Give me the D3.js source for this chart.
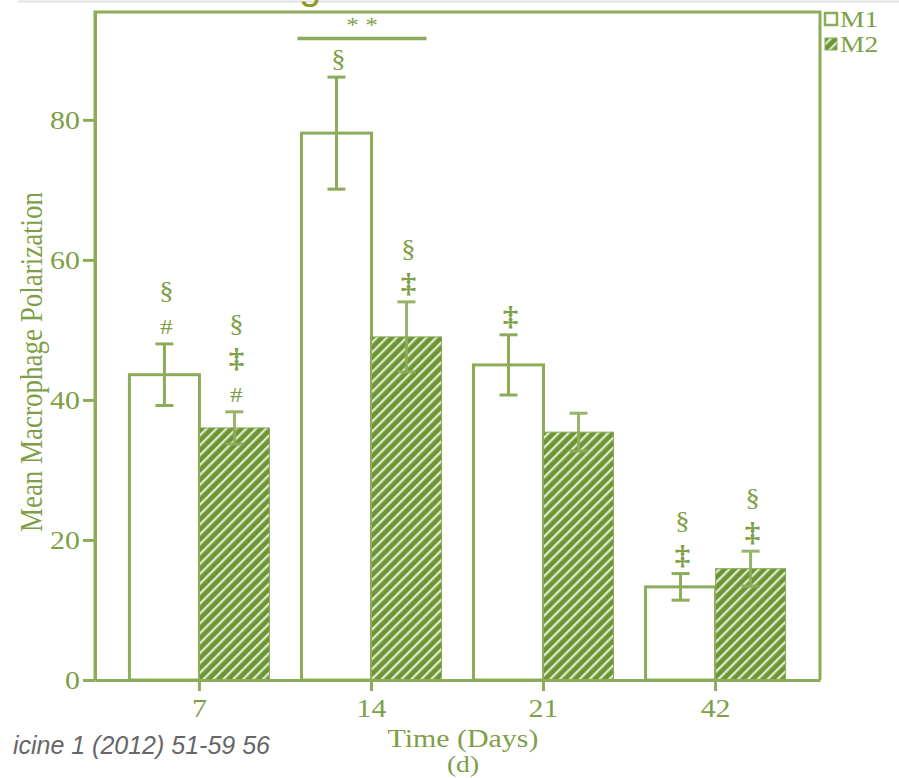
<!DOCTYPE html>
<html>
<head>
<meta charset="utf-8">
<script src="https://cdn.jsdelivr.net/npm/d3@7"></script>
<style>
  body { margin: 0; background: #fff; }
  svg { display: block; }
</style>
</head>
<body>
<script>
// values
var days = ["7", "14", "21", "42"];
var series = ["M1", "M2"];
var m1Mean = [43.6, 78.1, 45.0, 13.3];
var m1Err = [4.4, 8.0, 4.3, 1.9];
var m2Mean = [36.0, 49.0, 35.4, 15.9];
var m2Err = [2.3, 5.0, 2.7, 2.5];
// significance symbols, bottom to top, over each bar
var m1Marks = [["#", "§"], ["§"], ["‡"], ["‡", "§"]];
var m2Marks = [["#", "‡", "§"], ["‡", "§"], [], ["‡", "§"]];
var yTicks = [0, 20, 40, 60, 80];
var sigLevel = 91.6;   // "**" bracket over day 14

var width = 899, height = 778;
var margin = { left: 95, right: 79, top: 12, bottom: 98 };
var lineCol = "#8dac5a", textCol = "#7e9f47", fillCol = "#6c9634";
var stretch = 1.15;

var svg = d3.select("body").append("svg")
    .attr("width", width).attr("height", height);

var defs = svg.append("defs");
var pat = defs.append("pattern")
    .attr("id", "hatch")
    .attr("patternUnits", "userSpaceOnUse")
    .attr("width", 7).attr("height", 7)
    .attr("patternTransform", "rotate(45)");
pat.append("rect").attr("width", 7).attr("height", 7).attr("fill", fillCol);
pat.append("line").attr("x1", 1.2).attr("x2", 1.2).attr("y1", 0).attr("y2", 7)
    .attr("stroke", "#e4ecd6").attr("stroke-width", 2.2);

var x0 = d3.scaleBand()
    .domain(days)
    .range([margin.left, width - margin.right])
    .paddingInner(0.186)
    .paddingOuter(0.2);
var x1 = d3.scaleBand()
    .domain(series)
    .range([0, x0.bandwidth()]);
var y = d3.scaleLinear()
    .domain([0, 95.4])
    .range([height - margin.bottom, margin.top]);

// stretched serif text, like the scanned figure
function label(g, x, yy, txt, size, anchor, rot) {
    var t = g.append("g")
        .attr("transform", "translate(" + x + "," + yy + ") scale(" + stretch + ",1)" + (rot ? " rotate(" + rot + ")" : ""))
        .append("text")
        .attr("text-anchor", anchor || "middle")
        .attr("font-family", "'Liberation Serif', 'DejaVu Serif', serif")
        .attr("font-size", size)
        .attr("fill", textCol)
        .text(txt);
    return t;
}

// page leftovers
svg.append("line").attr("x1", 18).attr("x2", width).attr("y1", 1.5).attr("y2", 1.5)
    .attr("stroke", "#e2e2e2").attr("stroke-width", 2);
svg.append("text").attr("x", 310).attr("y", -1).attr("text-anchor", "middle")
    .attr("font-family", "'Liberation Sans', sans-serif").attr("font-size", 40)
    .attr("fill", "#8a9c1c").text("g");
svg.append("text").attr("x", 442).attr("y", -9).attr("text-anchor", "middle")
    .attr("font-family", "'Liberation Sans', sans-serif").attr("font-size", 28)
    .attr("fill", "#aaa").text("( )");
svg.append("text").attr("x", 270).attr("y", 754).attr("text-anchor", "end")
    .attr("font-family", "'Liberation Sans', Arial, sans-serif").attr("font-style", "italic")
    .attr("font-size", 25).attr("fill", "#666").text("icine 1 (2012) 51-59 56");

var plot = svg.append("g");

// bars
var rows = [];
days.forEach(function(d, i) {
    rows.push({ day: d, s: "M1", v: m1Mean[i], e: m1Err[i], marks: m1Marks[i] });
    rows.push({ day: d, s: "M2", v: m2Mean[i], e: m2Err[i], marks: m2Marks[i] });
});

plot.selectAll(".bar").data(rows).enter().append("rect")
    .attr("class", "bar")
    .attr("x", function(d) { return x0(d.day) + x1(d.s); })
    .attr("y", function(d) { return y(d.v); })
    .attr("width", x1.bandwidth())
    .attr("height", function(d) { return y(0) - y(d.v); })
    .attr("fill", function(d) { return d.s == "M1" ? "#fff" : "url(#hatch)"; })
    .attr("stroke", lineCol)
    .attr("stroke-width", function(d) { return d.s == "M1" ? 3 : 1; });

// error bars
var cx = function(d) { return x0(d.day) + x1(d.s) + x1.bandwidth() / 2; };
var eb = plot.selectAll(".err").data(rows).enter().append("g").attr("class", "err")
    .attr("stroke", lineCol).attr("stroke-width", 3).attr("opacity", function(d) { return d.s == "M1" ? 1 : 0.9; });
eb.append("line")
    .attr("x1", cx).attr("x2", cx)
    .attr("y1", function(d) { return y(d.v + d.e); })
    .attr("y2", function(d) { return y(d.v - d.e); });
[1, -1].forEach(function(sign) {
    eb.append("line")
        .attr("x1", function(d) { return cx(d) - 9; })
        .attr("x2", function(d) { return cx(d) + 9; })
        .attr("y1", function(d) { return y(d.v + sign * d.e); })
        .attr("y2", function(d) { return y(d.v + sign * d.e); });
});

// significance marks
rows.forEach(function(d) {
    d.marks.forEach(function(m, k) {
        var yy = y(d.v + d.e) - 18 - 35 * k;
        var size = m == "§" ? 25 : (m == "‡" ? 27 : 22);
        label(plot, cx(d) + 2, yy + 8, m, size, "middle")
            .attr("font-weight", m == "‡" ? "bold" : null);
    });
});

// ** bracket over day 14
var bx0 = x0("14") - 4;
var bx1 = x0("14") + x1("M2") + x1.bandwidth() / 2 + 20;
plot.append("line").attr("x1", bx0).attr("x2", bx1)
    .attr("y1", y(sigLevel)).attr("y2", y(sigLevel))
    .attr("stroke", lineCol).attr("stroke-width", 3.5);
label(plot, (bx0 + bx1) / 2, y(sigLevel) - 7, "* *", 22, "middle");

// frame
svg.append("path")
    .attr("d", "M" + margin.left + "," + y(0) + "V" + margin.top + "H" + (width - margin.right) + "V" + y(0))
    .attr("fill", "none").attr("stroke", lineCol).attr("stroke-width", 3);

// axes
var xAxis = svg.append("g")
    .attr("transform", "translate(0," + y(0) + ")")
    .call(d3.axisBottom(x0).tickSizeInner(11).tickSizeOuter(0).tickFormat(""));
var yAxis = svg.append("g")
    .attr("transform", "translate(" + margin.left + ",0)")
    .call(d3.axisLeft(y).tickValues(yTicks).tickSizeInner(12).tickSizeOuter(0).tickFormat(""));
[xAxis, yAxis].forEach(function(a) {
    a.select(".domain").attr("stroke", lineCol).attr("stroke-width", 3);
    a.selectAll(".tick line").attr("stroke", lineCol).attr("stroke-width", 3);
});

days.forEach(function(d) {
    label(svg, x0(d) + x0.bandwidth() / 2, y(0) + 37, d, 26, "middle");
});
yTicks.forEach(function(t) {
    label(svg, margin.left - 15, y(t) + 9, String(t), 26, "end");
});

label(svg, 463, 747, "Time (Days)", 26, "middle");
label(svg, 463, 772, "(d)", 24, "middle");
label(svg, 42, 362, "Mean Macrophage Polarization", 27, "middle", -90);

// legend
var leg = svg.append("g").attr("transform", "translate(" + (width - margin.right + 5) + "," + (margin.top + 1) + ")");
series.forEach(function(s, i) {
    leg.append("rect")
        .attr("x", 0).attr("y", i * 25).attr("width", 12).attr("height", 12)
        .attr("fill", s == "M1" ? "#fff" : "url(#hatch)")
        .attr("stroke", lineCol).attr("stroke-width", s == "M1" ? 2.5 : 1);
    label(leg, 15, i * 25 + 14, s, 24, "start");
});
</script>
</body>
</html>
